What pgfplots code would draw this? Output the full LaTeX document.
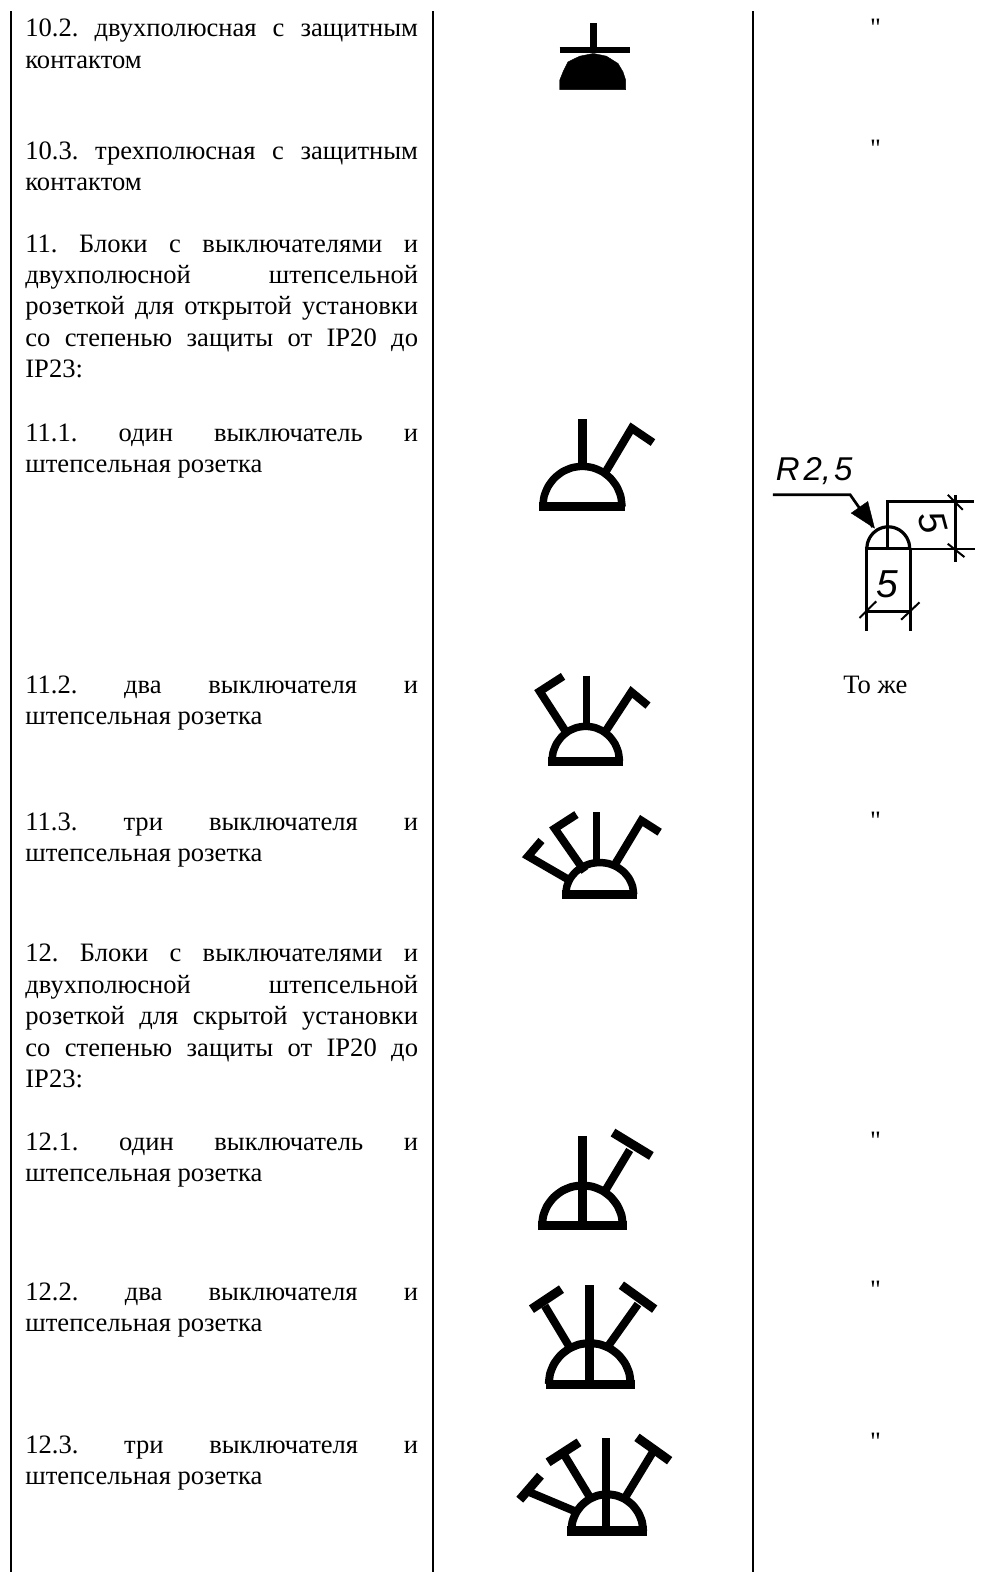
\documentclass[border=0pt]{standalone}
\usepackage{fontspec}
\setmainfont{Liberation Serif}
\newfontfamily\plainf{Liberation Serif}
\newfontfamily\hand[ItalicFont={Liberation Sans Italic}]{Liberation Sans}
\usepackage{pgfplots}
\usepackage{pgfplotstable}
\pgfplotsset{compat=1.18}
\pgfplotstableread{
u v
1 0
.966 .259
.866 .5
.707 .707
.5 .866
.259 .966
0 1
-.259 .966
-.5 .866
-.707 .707
-.866 .5
-.966 .259
-1 0
}\unitdome
\newcommand{\seg}[2]{\addplot[black,line width=#1pt,mark=none,line join=miter] coordinates {#2};}
\newcommand{\dome}[5]{\addplot[black,line width=#5pt,mark=none,smooth,tension=0.4] table[x expr=#1+#2*\thisrow{u},y expr=#3-#4*\thisrow{v}]{\unitdome};}
\newcommand{\J}[2]{\node[anchor=base west,inner sep=0pt] at (axis cs:25,#1) {\hbox to 393pt{#2}};}
\newcommand{\T}[2]{\node[anchor=base west,inner sep=0pt] at (axis cs:25,#1) {#2};}
\newcommand{\Q}[1]{\node[anchor=base,inner sep=0pt] at (axis cs:876,#1) {\plainf "};}
\begin{document}
\begin{tikzpicture}
\begin{axis}[scale only axis,width=992pt,height=1573pt,xmin=0,xmax=992,ymin=0,ymax=1573,y dir=reverse,hide axis,clip=false,
  nodes={font=\fontsize{26.6}{31}\selectfont}]
\addplot[white,fill=white,forget plot] coordinates {(0,0)(992,0)(992,1573)(0,1573)} --cycle;
% table rules
\seg{2.2}{(11,11)(11,1573)}
\seg{2.2}{(433.3,11)(433.3,1573)}
\seg{2.2}{(753.3,11)(753.3,1573)}
% text
\J{36.5}{10.2.\hfill двухполюсная\hfill с\hfill защитным}
\T{68}{контактом}
\J{159}{10.3.\hfill трехполюсная\hfill с\hfill защитным}
\T{190}{контактом}
\J{252.5}{11.\hfill Блоки\hfill с\hfill выключателями\hfill и}
\J{283.6}{двухполюсной\hfill штепсельной}
\J{314.8}{розеткой\hfill для\hfill открытой\hfill установки}
\J{346.5}{со\hfill степенью\hfill защиты\hfill от\hfill IP20\hfill до}
\T{377.8}{IP23:}
\J{441.2}{11.1.\hfill один\hfill выключатель\hfill и}
\T{472.3}{штепсельная розетка}
\J{693.7}{11.2.\hfill два\hfill выключателя\hfill и}
\T{724.8}{штепсельная розетка}
\J{831.2}{11.3.\hfill три\hfill выключателя\hfill и}
\T{862.2}{штепсельная розетка}
\J{961.7}{12.\hfill Блоки\hfill с\hfill выключателями\hfill и}
\J{993.7}{двухполюсной\hfill штепсельной}
\J{1025}{розеткой\hfill для\hfill скрытой\hfill установки}
\J{1057}{со\hfill степенью\hfill защиты\hfill от\hfill IP20\hfill до}
\T{1088.2}{IP23:}
\J{1151}{12.1.\hfill один\hfill выключатель\hfill и}
\T{1182}{штепсельная розетка}
\J{1301}{12.2.\hfill два\hfill выключателя\hfill и}
\T{1332}{штепсельная розетка}
\J{1454.5}{12.3.\hfill три\hfill выключателя\hfill и}
\T{1485.5}{штепсельная розетка}
\node[anchor=base,inner sep=0pt] at (axis cs:876,693.7) {То же};
\Q{36}\Q{157.5}\Q{829.5}\Q{1150.4}\Q{1299.8}\Q{1451.3}
% symbol 10.2
\seg{6.5}{(593.7,23)(593.7,50)}
\seg{6.5}{(560,50)(630,50)}
\addplot[black,fill=black] coordinates {(560,89.5)(560,80)(563.3,71.7)(568.3,61.7)(580,56)(593.7,53.3)(606.7,56)(618.3,63.3)(623.3,71.7)(626,80)(626,89.5)} --cycle;
% symbol 11.1
\dome{582.7}{39.7}{507}{40.5}{7.5}
\seg{9}{(539.3,507)(625.7,507)}
\seg{8.5}{(582.7,419.3)(582.7,467)}
\seg{8}{(604.5,474.5)(632,428.3)(653.3,442.7)}
% symbol 11.2
\dome{586}{33.8}{761.7}{35}{7.5}
\seg{8.5}{(548.7,761.7)(623.3,761.7)}
\seg{7.5}{(587,676)(587,726)}
\seg{8}{(567,733.5)(540,691.7)(563.3,676.7)}
\seg{8}{(605,733)(631.7,692.3)(648.3,706)}
% symbol 11.3
\dome{600}{34}{895}{32}{7.5}
\seg{8.5}{(562.3,895)(637.3,895)}
\seg{7.5}{(596.7,812.7)(596.7,862)}
\seg{8}{(614,867)(641.7,821)(660,832.7)}
\seg{8}{(585,872)(555,829)(576.7,815)}
\seg{8}{(572,882)(528.3,856.7)(541.7,841)}
% symbol 12.1
\dome{582.7}{40.5}{1226.7}{40.5}{8}
\seg{9}{(538.3,1226.7)(627.3,1226.7)}
\seg{9}{(582.7,1136.7)(582.7,1227)}
\seg{8}{(604,1194)(630,1150.7)}
\seg{9}{(613.3,1133.3)(651.7,1156.7)}
% symbol 12.2
\dome{590}{41}{1385}{41}{8}
\seg{9}{(546,1385)(635.7,1385)}
\seg{9}{(590,1286)(590,1385)}
\seg{8}{(607,1349)(638.3,1305)}
\seg{9}{(621.7,1286)(655,1310)}
\seg{8}{(571,1350)(545,1306.7)}
\seg{9}{(531.7,1310)(561.7,1290)}
% symbol 12.3
\dome{607.5}{36}{1532.3}{37}{8}
\seg{10}{(567.7,1532.3)(647.3,1532.3)}
\seg{8}{(606.7,1439.3)(606.7,1532)}
\seg{8}{(624,1501)(655,1450)}
\seg{9}{(637.3,1438.3)(670,1461.7)}
\seg{8}{(590,1498)(565,1456.7)}
\seg{9}{(548.3,1463.3)(579.3,1443.3)}
\seg{8}{(577,1513)(530,1493.3)}
\seg{9}{(520,1500.7)(540.7,1476.7)}
% dimension drawing
\node[anchor=base west,inner sep=0pt,font=\hand\itshape\fontsize{33}{33}\selectfont] at (axis cs:776,481) {R\hspace{4pt}2,\hspace{3pt}5};
\seg{2.7}{(773.3,495)(850.7,495)(873.3,527.3)}
\addplot[black,fill=black] coordinates {(875,528.3)(851.7,513.3)(868.3,501.7)} --cycle;
\dome{888.8}{21.5}{549}{22}{3.2}
\seg{3.2}{(865.5,549)(912,549)}
\seg{3.3}{(888.3,549)(888.3,501.7)(975,501.7)}
\seg{2.5}{(911,549)(976,549)}
\seg{2.5}{(956,495)(956,562.7)}
\seg{2}{(948.3,495)(963.3,510)}
\seg{2}{(948.3,544)(965,557.3)}
\seg{2.7}{(866.7,549)(866.7,631.7)}
\seg{2.7}{(910.7,549)(910.7,631.7)}
\seg{2.5}{(866,611.7)(911,611.7)}
\seg{2}{(860,618.3)(876.7,601.7)}
\seg{2}{(901.7,620)(920,602.7)}
\node[anchor=center,inner sep=0pt,rotate=-75,font=\hand\itshape\fontsize{38}{38}\selectfont] at (axis cs:933,523) {5};
\node[anchor=center,inner sep=0pt,font=\hand\itshape\fontsize{39}{39}\selectfont] at (axis cs:888,585) {5};
\end{axis}
\end{tikzpicture}
\end{document}
